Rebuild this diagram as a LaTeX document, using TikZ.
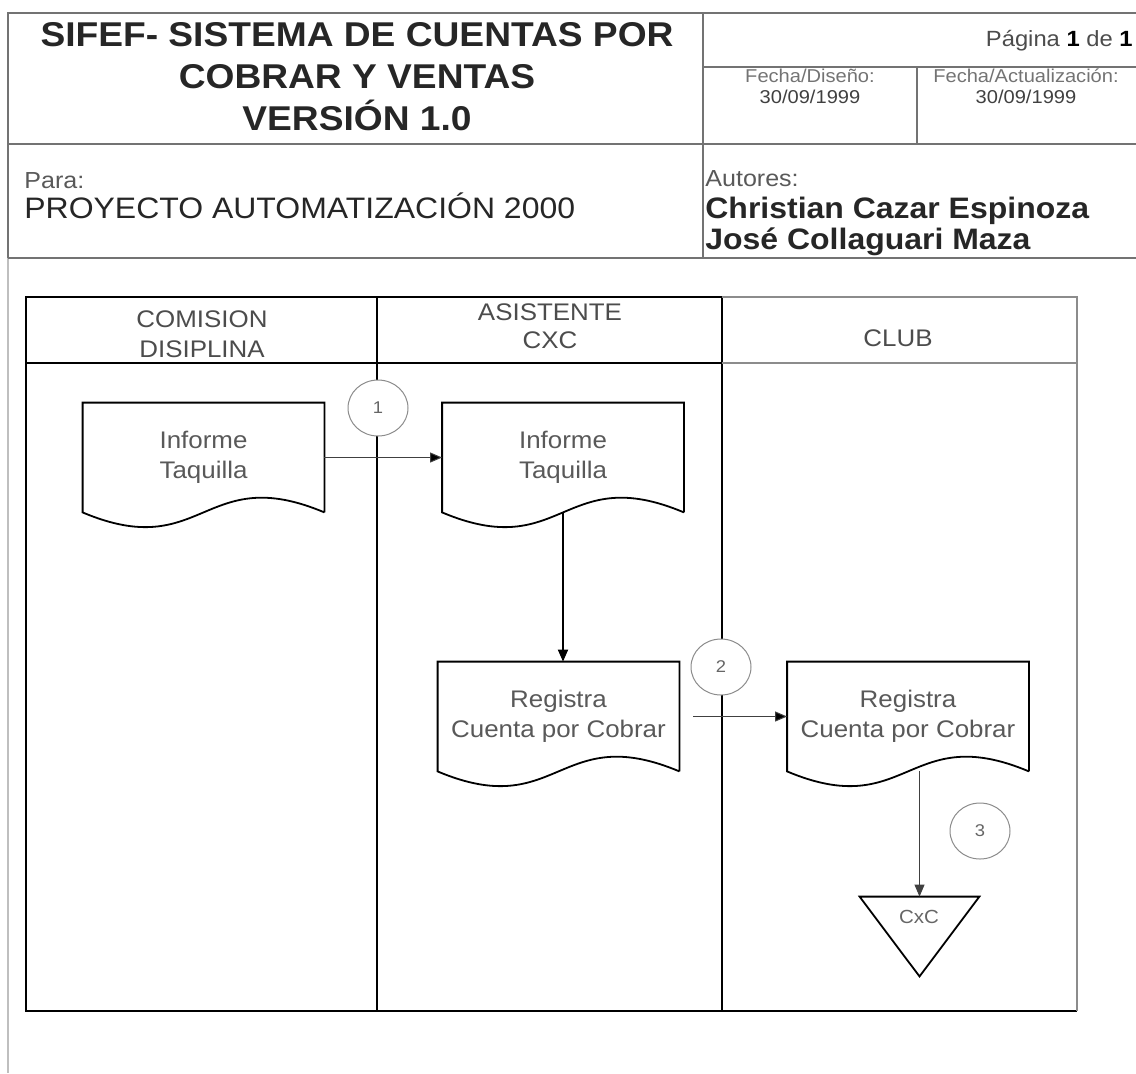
\documentclass[tikz,border=0pt]{standalone}
\usepackage{fontspec}
\setmainfont{Liberation Sans}[FakeStretch=1.08]
\usetikzlibrary{arrows.meta, calc, shapes.geometric}

% hoja: outline of a document symbol drawn round a node
\newcommand{\hoja}[1]{%
  \draw[borde] (#1.south east) -- (#1.north east) -- (#1.north west) -- (#1.south west)
    .. controls ($(#1.south)+(0,51)$) and ($(#1.south)+(0,-51)$) .. (#1.south east);}

\begin{document}
\begin{tikzpicture}[x=0.5pt, y=-0.5pt, >={Triangle[length=6pt, width=5pt]},
  marco/.style={draw=black!55, line width=0.8pt},
  margen/.style={draw=black!25, line width=0.6pt},
  carril/.style={draw=black, line width=1pt},
  carrilgris/.style={draw=black!45, line width=0.6pt},
  borde/.style={draw=black, line width=0.9pt},
  doc/.style={rectangle, minimum width=120.5pt, minimum height=54.5pt, inner sep=0pt,
    align=center, text=black!65, font=\fontsize{12}{15}\selectfont},
  cabeza/.style={align=center, text=black!70, font=\fontsize{12}{15}\selectfont},
  num/.style={ellipse, draw=black!45, fill=white, line width=0.5pt, minimum width=30pt,
    minimum height=28pt, inner sep=0pt, text=black!60, font=\fontsize{8.5}{10}\selectfont},
  almacen/.style={rectangle, minimum width=59.5pt, minimum height=39.5pt, inner sep=0pt},
  flecha/.style={->, draw=black!75, line width=0.5pt},
  texto/.style={inner sep=0pt, text=black!75}]

  \useasboundingbox (0,0) rectangle (1136,1073);

  % cabecera
  \draw[marco] (1136,13) -- (8,13) -- (8,258);
  \draw[margen] (8,258) -- (8,1073);
  \draw[marco] (8,144) -- (1136,144);
  \draw[marco] (8,258) -- (1136,258);
  \draw[marco] (703,13) -- (703,258);
  \draw[marco] (703,67) -- (1136,67);
  \draw[marco] (917,67) -- (917,144);

  \node[texto, align=center, text=black!85, font=\fontsize{17.2}{21}\bfseries] (titulo) at (357,77)
    {SIFEF- SISTEMA DE CUENTAS POR\\COBRAR Y VENTAS\\VERSIÓN 1.0};
  \node[texto, anchor=base east, text=black!70, font=\fontsize{11}{12}\selectfont] (pagina) at (1133,46)
    {Página \textbf{\color{black}1} de \textbf{\color{black}1}};
  \node[texto, align=center, font=\fontsize{9.3}{10.5}\selectfont] (fdis) at (810,86)
    {{\color{black!55}Fecha/Diseño:}\\30/09/1999};
  \node[texto, align=center, font=\fontsize{9.3}{10.5}\selectfont] (fact) at (1026,86)
    {{\color{black!55}Fecha/Actualización:}\\30/09/1999};
  \node[texto, anchor=base west, text=black!65, font=\fontsize{11.6}{14}\selectfont] (para) at (24,188) {Para:};
  \node[texto, anchor=base west, text=black!85, font=\fontsize{14.8}{17}\selectfont] (proyecto) at (24,218)
    {PROYECTO AUTOMATIZACIÓN 2000};
  \node[texto, anchor=base west, text=black!65, font=\fontsize{11.6}{14}\selectfont] (autores) at (705,186) {Autores:};
  \node[texto, anchor=base west, text=black!85, font=\fontsize{14.8}{17}\bfseries] (autor1) at (705,218)
    {Christian Cazar Espinoza};
  \node[texto, anchor=base west, text=black!85, font=\fontsize{14.8}{17}\bfseries] (autor2) at (705,249)
    {José Collaguari Maza};

  % carriles
  \draw[carril] (722,297) -- (26,297) -- (26,1011) -- (1077,1011);
  \draw[carril] (26,363) -- (722,363);
  \draw[carril] (377,297) -- (377,1011);
  \draw[carril] (722,297) -- (722,1011);
  \draw[carrilgris] (722,297) -- (1077,297) -- (1077,1011);
  \draw[carrilgris] (722,363) -- (1077,363);

  \node[cabeza] (lcom) at (202,334) {COMISION\\DISIPLINA};
  \node[cabeza, font=\fontsize{12}{14}\selectfont] (lasi) at (550,326) {ASISTENTE\\CXC};
  \node[cabeza] (lclub) at (898,338) {CLUB};

  % documentos
  \node[doc] (infA) at (203.5,457.5) {Informe\\Taquilla};
  \node[doc] (infB) at (563,457.5) {Informe\\Taquilla};
  \node[doc] (regC) at (558.5,716.5) {Registra\\Cuenta por Cobrar};
  \node[doc] (regD) at (908,716.5) {Registra\\Cuenta por Cobrar};
  \hoja{infA}
  \hoja{infB}
  \hoja{regC}
  \hoja{regD}

  \node[almacen] (cxc) at (919.5,936.5) {};
  \draw[borde] (cxc.north west) -- (cxc.north east) -- (cxc.south) -- cycle;
  \node[texto, text=black!60, font=\fontsize{9.5}{11}\selectfont] (cxct) at (919,917) {CxC};

  \node[num] (n1) at (378,408) {1};
  \node[num] (n2) at (721,667) {2};
  \node[num] (n3) at (980,831) {3};

  \path[flecha]
    (infA) edge (infB);
  \path[flecha, shorten <=7pt]
    (regC) edge (regD);
  \draw[->, draw=black, line width=0.9pt] (infB.south) -- (infB.south |- regC.north);
  \draw[flecha] (regD.south -| cxc.north) -- (cxc.north);
\end{tikzpicture}
\end{document}
